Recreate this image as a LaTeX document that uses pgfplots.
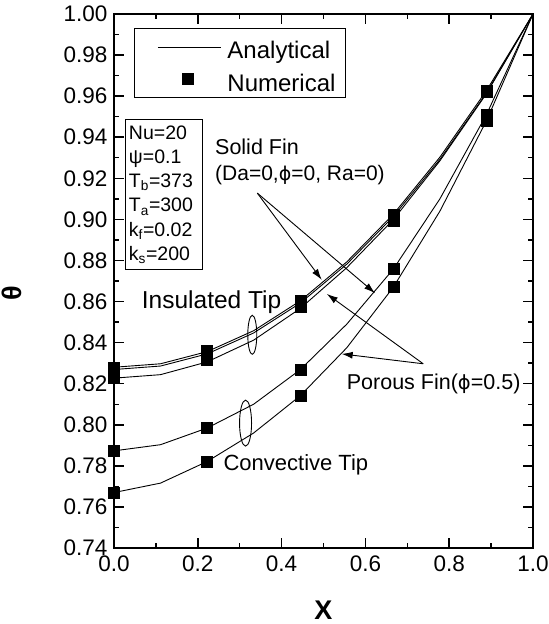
\documentclass[border=0pt]{standalone}
\usepackage{fontspec}
\setmainfont{Liberation Sans}
\newfontfamily\dejavu{DejaVu Sans}
\usepackage{pgfplots}
\pgfplotsset{compat=1.18}
\usetikzlibrary{arrows.meta}

\pgfplotsset{
  lineleg/.style={legend image code/.code={\path (0pt,0pt) (82pt,0pt); \draw[##1] (15pt,0pt) -- (78pt,0pt);}},
  markleg/.style={legend image code/.code={\path (0pt,0pt) (82pt,0pt); \draw[##1] plot coordinates {(45pt,0pt)};}},
}

\pgfplotstableread{
x      A      A2     B      C      D
0.0000 0.8280 0.8269 0.8227 0.7873 0.7670
0.1111 0.8297 0.8286 0.8244 0.7903 0.7716
0.2222 0.8356 0.8345 0.8306 0.7984 0.7821
0.3333 0.8458 0.8447 0.8412 0.8100 0.7960
0.4444 0.8603 0.8592 0.8566 0.8268 0.8141
0.5556 0.8793 0.8782 0.8765 0.8490 0.8375
0.6667 0.9025 0.9014 0.8999 0.8758 0.8670
0.7778 0.9303 0.9292 0.9285 0.9100 0.9040
0.8889 0.9627 0.9616 0.9612 0.9510 0.9480
1.0000 1.0000 1.0000 1.0000 1.0000 1.0000
}\analytical

\pgfplotstableread{
x      A      B      C      D
0.0000 0.8280 0.8227 0.7873 0.7670
0.2222 0.8360 0.8316 0.7984 0.7821
0.4444 0.8605 0.8573 0.8268 0.8141
0.6667 0.9024 0.8995 0.8758 0.8670
0.8889 0.9625 0.9620 0.9509 0.9480
}\numerical

\begin{document}
\begin{tikzpicture}
\begin{axis}[
  scale only axis, width=419pt, height=534pt,
  xmin=0, xmax=1, ymin=0.74, ymax=1.00,
  clip=false,
  xtick={0,0.2,0.4,0.6,0.8,1.0},
  xticklabels={0.0,0.2,0.4,0.6,0.8,1.0},
  minor xtick={0.1,0.3,0.5,0.7,0.9},
  ytick={0.74,0.76,0.78,0.80,0.82,0.84,0.86,0.88,0.90,0.92,0.94,0.96,0.98,1.00},
  yticklabels={0.74,0.76,0.78,0.80,0.82,0.84,0.86,0.88,0.90,0.92,0.94,0.96,0.98,1.00},
  minor ytick={0.75,0.77,0.79,0.81,0.83,0.85,0.87,0.89,0.91,0.93,0.95,0.97,0.99},
  tick align=inside,
  xtick pos=both, ytick pos=both,
  xticklabel pos=left, yticklabel pos=left,
  major tick length=10pt, minor tick length=5pt,
  every major tick/.append style={line width=1.6pt, black},
  every minor tick/.append style={line width=1.4pt, black},
  axis line style={line width=1.8pt},
  ticklabel style={font=\fontsize{22.5}{26}\selectfont},
  xticklabel style={yshift=-4pt},
  yticklabel style={xshift=-3pt},
  xlabel={\textbf{X}}, ylabel={\textbf{θ}},
  every axis x label/.style={at={(axis description cs:0.5,-0.1161)}, anchor=center, font=\fontsize{27}{32}\selectfont},
  every axis y label/.style={at={(axis description cs:-0.2435,0.4775)}, anchor=center, rotate=90, font=\fontsize{27}{32}\selectfont},
  legend style={at={(axis description cs:0.0477,0.9732)}, anchor=north west,
    draw=black, line width=1pt, font=\fontsize{24}{28}\selectfont,
    inner xsep=8pt, inner ysep=2pt, row sep=-0.5pt,
    nodes={inner sep=2pt, text height=26pt, text depth=2.7pt}},
  legend cell align=left,
]
\coordinate (SW) at (rel axis cs:0,0);
\coordinate (NE) at (rel axis cs:1,1);

\addplot[black, line width=0.9pt, no marks, lineleg]
  table[x=x,y=A] {\analytical};
\addlegendentry{Analytical}
\addplot[black, only marks, mark=square*, mark size=5.5pt, mark options={solid, fill=black}, markleg]
  table[x=x,y=A] {\numerical};
\addlegendentry{Numerical}

\addplot[black, line width=0.9pt, no marks, forget plot] table[x=x,y=A2] {\analytical};
\addplot[black, line width=0.9pt, no marks, forget plot] table[x=x,y=B] {\analytical};
\addplot[black, line width=0.9pt, no marks, forget plot] table[x=x,y=C] {\analytical};
\addplot[black, line width=0.9pt, no marks, forget plot] table[x=x,y=D] {\analytical};

\addplot[black, only marks, mark=square*, mark size=5.5pt, mark options={solid, fill=black}, forget plot] table[x=x,y=B] {\numerical};
\addplot[black, only marks, mark=square*, mark size=5.5pt, mark options={solid, fill=black}, forget plot] table[x=x,y=C] {\numerical};
\addplot[black, only marks, mark=square*, mark size=5.5pt, mark options={solid, fill=black}, forget plot] table[x=x,y=D] {\numerical};

% parameter box
\node[draw=black, line width=1pt, anchor=north west, align=left, text width=70pt,
      inner xsep=3.5pt, inner ysep=6pt, font=\fontsize{19.5}{24.3}\selectfont]
  at (axis cs:0.02625,0.94891)
  {Nu=20\\ψ=0.1\\T\textsubscript{b}=373\\T\textsubscript{a}=300\\k\textsubscript{f}=0.02\\k\textsubscript{s}=200};

% annotations
\node[anchor=base west, inner sep=0pt, font=\fontsize{21.5}{26}\selectfont] at (axis cs:0.241,0.9314) {Solid Fin};
\node[anchor=base west, inner sep=0pt, font=\fontsize{21}{26}\selectfont] at (axis cs:0.241,0.9188) {(Da=0,{\dejavu\fontsize{19}{22}\selectfont ϕ}=0, Ra=0)};
\node[anchor=base west, inner sep=0pt, font=\fontsize{24.5}{28}\selectfont] at (axis cs:0.0661,0.8566) {Insulated Tip};
\node[anchor=base west, inner sep=0pt, font=\fontsize{22}{26}\selectfont] at (axis cs:0.261,0.7775) {Convective Tip};
\node[anchor=base west, inner sep=0pt, font=\fontsize{21.5}{26}\selectfont] at (axis cs:0.5553,0.8172) {Porous Fin({\dejavu\fontsize{19.5}{22}\selectfont ϕ}=0.5)};

\draw[-{Latex[length=11pt,width=7pt]}, line width=0.9pt] (axis cs:0.342,0.9128) -- (axis cs:0.4957,0.8706);
\draw[-{Latex[length=11pt,width=7pt]}, line width=0.9pt] (axis cs:0.342,0.9128) -- (axis cs:0.623,0.8641);
\draw[-{Latex[length=11pt,width=7pt]}, line width=0.9pt] (axis cs:0.738,0.8297) -- (axis cs:0.508,0.8637);
\draw[-{Latex[length=11pt,width=7pt]}, line width=0.9pt] (axis cs:0.738,0.8297) -- (axis cs:0.5434,0.8345);

\draw[line width=0.9pt] (axis cs:0.330,0.8438) ellipse [x radius=4.5pt, y radius=19.5pt];
\draw[line width=0.9pt] (axis cs:0.314,0.8008) ellipse [x radius=6pt, y radius=23pt];
\end{axis}
\pgfresetboundingbox
\path ([shift={(-114pt,-76pt)}]SW) rectangle ([shift={(16pt,14pt)}]NE);
\end{tikzpicture}
\end{document}
